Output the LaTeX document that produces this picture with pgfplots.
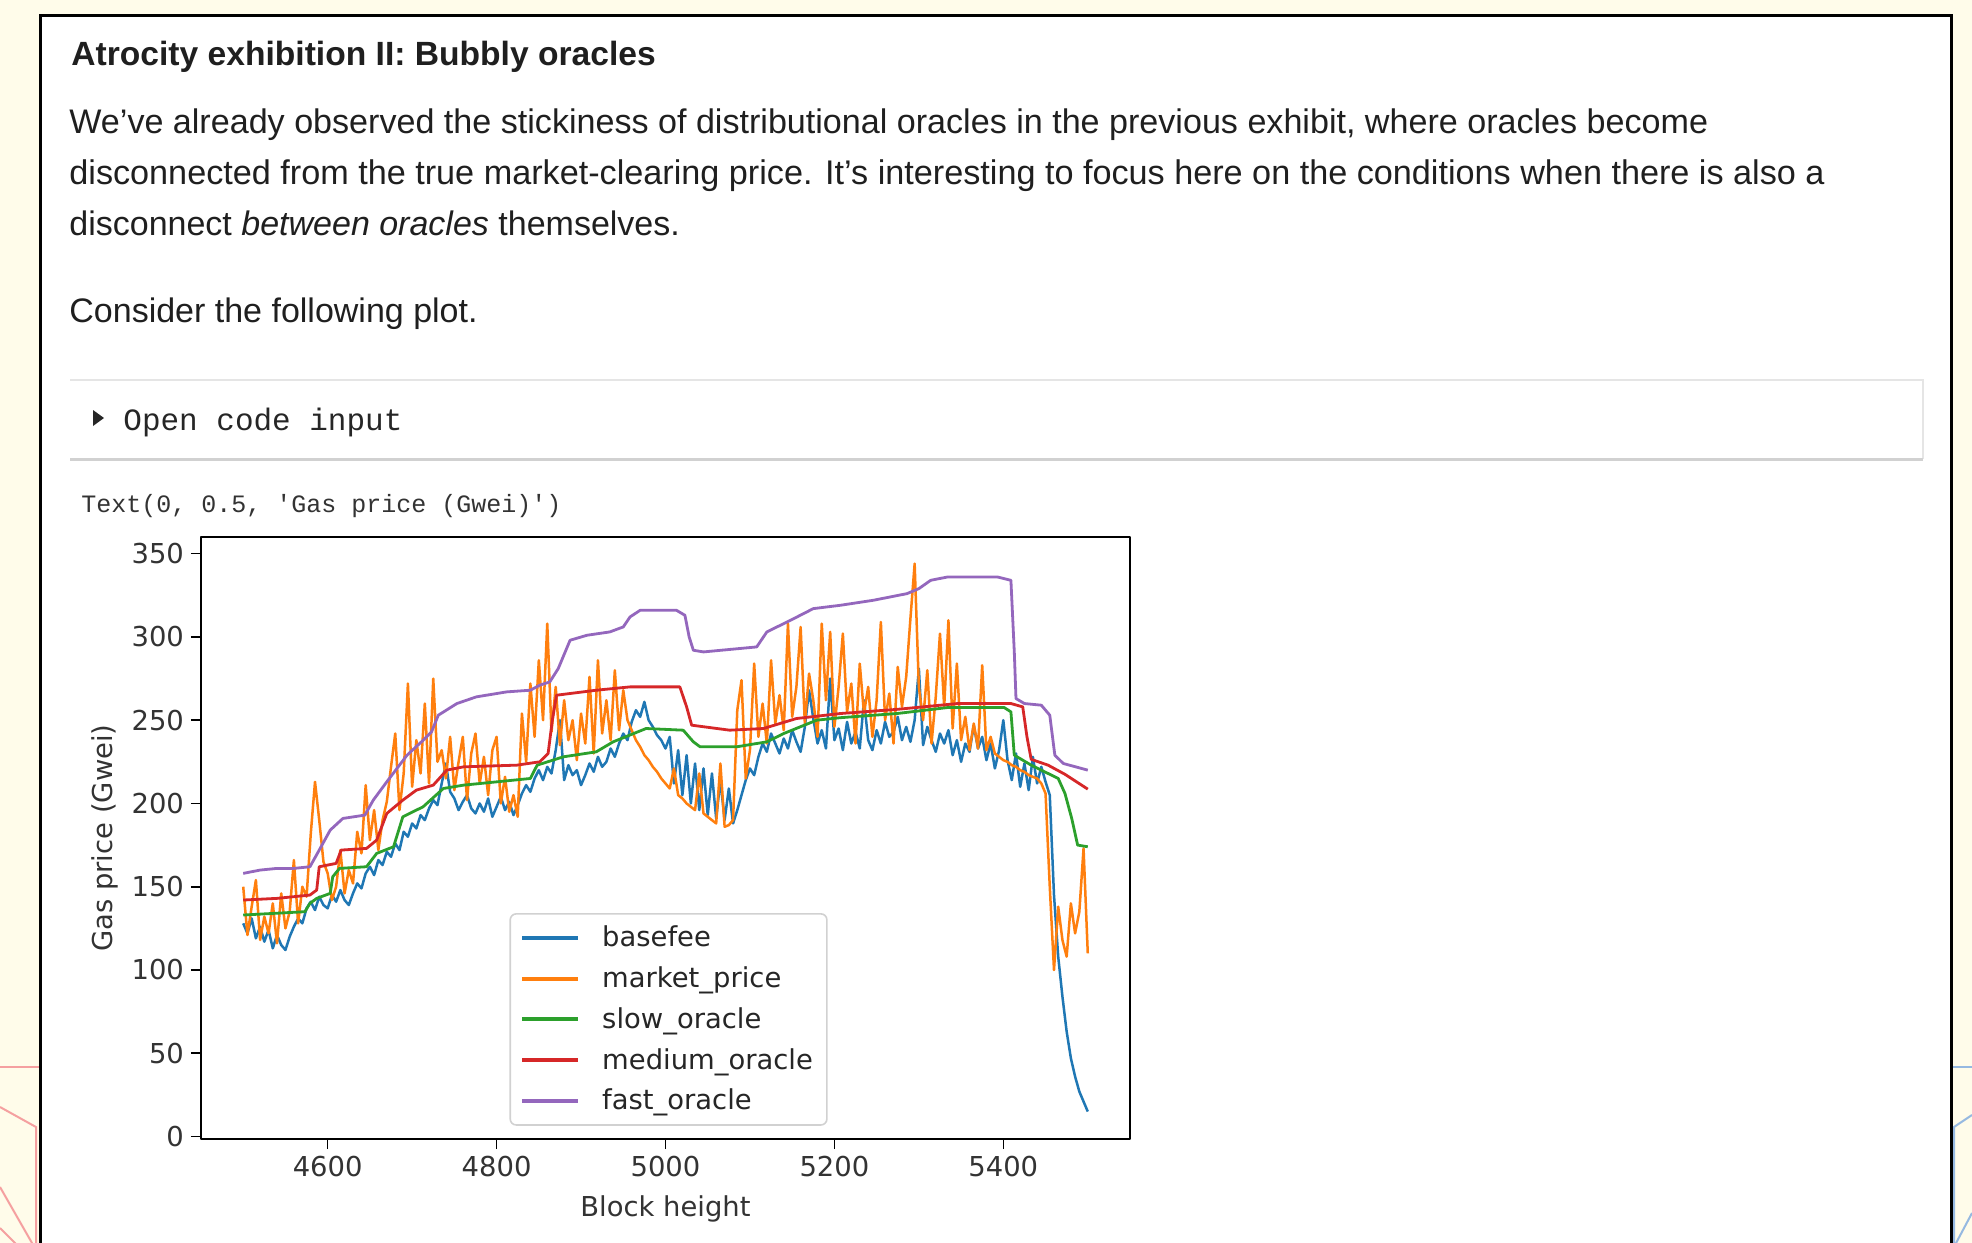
\documentclass[border=0pt]{standalone}
\usepackage{pgfplots}
\pgfplotsset{compat=1.18}
\usepackage{fontspec}
\setmainfont{Liberation Sans}
\newfontfamily\plotfont{DejaVu Sans}
\newfontfamily\codefont{Liberation Mono}
\definecolor{mplblue}{HTML}{1F77B4}
\definecolor{mplorange}{HTML}{FF7F0E}
\definecolor{mplgreen}{HTML}{2CA02C}
\definecolor{mplred}{HTML}{D62728}
\definecolor{mplpurple}{HTML}{9467BD}
\definecolor{bgcream}{RGB}{255,252,234}
\definecolor{pinkdeco}{RGB}{245,160,160}
\definecolor{bluedeco}{RGB}{150,185,225}
\begin{document}
\begin{tikzpicture}
\useasboundingbox (0pt,0pt) rectangle (986pt,-621.5pt);
\begin{scope}[x=0.5pt,y=-0.5pt]
  \fill[bgcream] (0,0) rectangle (1972,1243);
  % decorations
  \draw[pinkdeco, line width=1pt] (0,1067) -- (40,1067);
  \draw[pinkdeco, line width=1pt] (0,1107) -- (36,1127) -- (36,1260);
  \draw[pinkdeco, line width=1pt] (0,1187) -- (36,1250);
  \draw[pinkdeco, line width=1pt] (0,1228) -- (22,1250);
  \draw[bluedeco, line width=1pt] (1951,1067) -- (1972,1067);
  \draw[bluedeco, line width=1pt] (1972,1115) -- (1954,1127) -- (1954,1260);
  \draw[bluedeco, line width=1pt] (1955,1245) -- (1972,1213);
  % panel
  \fill[white] (40,15) rectangle (1951,1260);
  \draw[black, line width=1.5pt] (40,1260) -- (40,15) -- (1951,15) -- (1951,1260);
  % text
  \node[anchor=base west, inner sep=0pt, text=black!88] at (71,65)
    {\fontsize{16.8}{20}\selectfont\bfseries Atrocity exhibition II: Bubbly oracles};
  \node[anchor=base west, inner sep=0pt, text=black!88] at (69,133)
    {\fontsize{17.05}{20}\selectfont We've already observed the stickiness of distributional oracles in the previous exhibit, where oracles become};
  \node[anchor=base west, inner sep=0pt, text=black!88] at (69,184)
    {\fontsize{17.1}{20}\selectfont disconnected from the true market-clearing price. It's interesting to focus here on the conditions when there is also a};
  \node[anchor=base west, inner sep=0pt, text=black!88] at (69,235.5)
    {\fontsize{17}{20}\selectfont disconnect \textit{between oracles} themselves.};
  \node[anchor=base west, inner sep=0pt, text=black!88] at (69,322)
    {\fontsize{17}{20}\selectfont Consider the following plot.};
  % code box
  \fill[white] (70,380) rectangle (1923,459);
  \draw[black!10, line width=0.8pt] (70,380) -- (1923,380) -- (1923,459);
  \draw[black!18, line width=1.5pt] (70,459) -- (1923,459);
  \fill[black!85] (93,410) -- (93,426) -- (104,418) -- cycle;
  \node[anchor=base west, inner sep=0pt, text=black!85] at (123,430)
    {\fontsize{15.5}{18}\selectfont\codefont Open code input};
  \node[anchor=base west, inner sep=0pt, text=black!80] at (81,512)
    {\fontsize{12.5}{15}\selectfont\codefont Text(0, 0.5, 'Gas price (Gwei)')};
\end{scope}
\begin{axis}[
  at={(100.5pt,-569.5pt)}, anchor=south west,
  scale only axis, width=464.5pt, height=301pt,
  xmin=4450, xmax=5550, ymin=-1.5, ymax=360,
  xtick={4600,4800,5000,5200,5400}, ytick={0,50,100,150,200,250,300,350},
  tick align=outside, major tick length=5pt,
  xtick pos=left, ytick pos=left,
  tick style={black, line width=0.8pt},
  axis line style={black, line width=1pt},
  ticklabel style={font=\plotfont\fontsize{13.7}{16}\selectfont, text=black!80},
  /pgf/number format/assume math mode=true,
  /pgf/number format/1000 sep={},
  xlabel={Block height}, ylabel={Gas price (Gwei)},
  label style={font=\plotfont\fontsize{13.7}{16}\selectfont, text=black!80},
  xlabel style={yshift=-2.5pt},
  legend cell align=left,
  legend style={at={(0.332,0.022)}, anchor=south west, draw=black!18, line width=0.8pt,
    rounded corners=3pt, fill=white, font=\plotfont\fontsize{13.7}{16}\selectfont,
    text=black!85, inner xsep=5pt, inner ysep=4pt, row sep=4.5pt},
  legend image code/.code={\draw[#1, line width=2pt] (0pt,0pt) -- (28pt,0pt);
    \path[draw=none, fill=none] (0pt,0pt) -- (38pt,0pt);},
  line join=round,
]
% basefee
\addplot[mplblue, line width=1.25pt] coordinates {
(4500,128)(4505,122)(4510,131)(4515,119)(4520,126)(4525,117)(4530,124)(4535,113)(4540,121)(4545,115)
(4550,112)(4555,120)(4560,126)(4565,131)(4570,128)(4575,137)(4580,141)(4585,136)(4590,144)(4595,139)
(4600,137)(4605,145)(4610,141)(4615,148)(4620,142)(4625,139)(4630,146)(4635,152)(4640,149)(4645,158)
(4650,162)(4655,157)(4660,166)(4665,163)(4670,171)(4675,168)(4680,176)(4685,172)(4690,183)(4695,180)
(4700,188)(4705,185)(4710,193)(4715,190)(4720,197)(4725,202)(4730,199)(4735,212)(4740,224)(4745,207)
(4750,203)(4755,196)(4760,201)(4765,205)(4770,197)(4775,194)(4780,200)(4785,195)(4790,203)(4795,192)
(4800,198)(4805,204)(4810,196)(4815,201)(4820,193)(4825,199)(4830,206)(4835,211)(4840,207)(4845,215)
(4850,220)(4855,214)(4860,222)(4865,218)(4870,232)(4875,250)(4880,214)(4885,223)(4890,217)(4895,220)
(4900,211)(4905,217)(4910,224)(4915,219)(4920,228)(4925,222)(4930,225)(4935,233)(4940,228)(4945,236)
(4950,242)(4955,238)(4960,249)(4965,256)(4970,252)(4975,261)(4980,250)(4985,246)(4990,241)(4995,238)
(5000,233)(5005,240)(5010,212)(5015,232)(5020,205)(5025,229)(5030,200)(5035,224)(5040,196)(5045,221)
(5050,193)(5055,218)(5060,191)(5065,214)(5070,190)(5075,209)(5080,188)(5085,196)(5090,205)(5095,214)
(5100,221)(5105,217)(5110,228)(5115,236)(5120,231)(5125,242)(5130,236)(5135,230)(5140,239)(5145,233)
(5150,244)(5155,237)(5160,231)(5165,246)(5170,268)(5175,251)(5180,236)(5185,244)(5190,233)(5195,275)
(5200,238)(5205,245)(5210,232)(5215,249)(5220,236)(5225,243)(5230,233)(5235,262)(5240,238)(5245,232)
(5250,244)(5255,236)(5260,249)(5265,240)(5270,243)(5275,252)(5280,238)(5285,246)(5290,237)(5295,250)
(5300,281)(5305,235)(5310,246)(5315,238)(5320,231)(5325,242)(5330,236)(5335,244)(5340,229)(5345,238)
(5350,225)(5355,236)(5360,231)(5365,247)(5370,233)(5375,240)(5380,226)(5385,236)(5390,221)(5395,232)
(5400,250)(5405,226)(5410,214)(5415,230)(5420,210)(5425,224)(5430,208)(5435,228)(5440,212)(5445,222)
(5450,213)(5455,205)(5460,145)(5465,108)(5470,84)(5475,63)(5480,47)(5485,36)(5490,27)(5495,21)(5500,15)
};
\addlegendentry{basefee}
% market_price
\addplot[mplorange, line width=1.25pt] coordinates {
(4500,150)(4505,121)(4510,138)(4515,154)(4520,118)(4525,132)(4530,122)(4535,140)(4540,116)(4545,146)
(4550,125)(4555,135)(4560,166)(4565,128)(4570,150)(4575,144)(4580,182)(4585,213)(4590,190)(4595,165)
(4600,158)(4605,142)(4610,150)(4615,172)(4620,146)(4625,160)(4630,152)(4635,183)(4640,170)(4645,211)
(4650,178)(4655,196)(4660,172)(4665,190)(4670,201)(4675,222)(4680,242)(4685,196)(4690,218)(4695,272)
(4700,210)(4705,238)(4710,218)(4715,260)(4720,212)(4725,275)(4730,225)(4735,232)(4740,215)(4745,240)
(4750,208)(4755,225)(4760,240)(4765,202)(4770,230)(4775,242)(4780,212)(4785,228)(4790,205)(4795,232)
(4800,240)(4805,200)(4810,216)(4815,195)(4820,205)(4825,192)(4830,254)(4835,225)(4840,272)(4845,240)
(4850,286)(4855,250)(4860,308)(4865,243)(4870,270)(4875,235)(4880,262)(4885,238)(4890,250)(4895,226)
(4900,254)(4905,236)(4910,276)(4915,230)(4920,286)(4925,242)(4930,262)(4935,238)(4940,280)(4945,244)
(4950,268)(4955,250)(4960,244)(4965,238)(4970,234)(4975,229)(4980,226)(4985,222)(4990,219)(4995,215)
(5000,212)(5005,209)(5010,221)(5015,205)(5020,203)(5025,200)(5030,198)(5035,196)(5040,218)(5045,194)
(5050,192)(5055,190)(5060,188)(5065,224)(5070,186)(5075,187)(5080,190)(5085,256)(5090,274)(5095,215)
(5100,232)(5105,284)(5110,240)(5115,260)(5120,236)(5125,286)(5130,248)(5135,265)(5140,244)(5145,308)
(5150,252)(5155,270)(5160,306)(5165,248)(5170,278)(5175,262)(5180,240)(5185,308)(5190,262)(5195,303)
(5200,246)(5205,270)(5210,302)(5215,255)(5220,272)(5225,236)(5230,284)(5235,254)(5240,270)(5245,240)
(5250,262)(5255,309)(5260,250)(5265,266)(5270,236)(5275,282)(5280,258)(5285,276)(5290,311)(5295,344)
(5300,270)(5305,250)(5310,280)(5315,236)(5320,264)(5325,302)(5330,258)(5335,310)(5340,245)(5345,284)
(5350,238)(5355,252)(5360,232)(5365,248)(5370,233)(5375,283)(5380,232)(5385,240)(5390,230)(5395,228)
(5400,226)(5405,225)(5410,223)(5415,222)(5420,220)(5425,219)(5430,217)(5435,216)(5440,215)(5445,212)
(5450,206)(5455,150)(5460,100)(5465,138)(5470,118)(5475,108)(5480,140)(5485,122)(5490,135)(5495,173)(5500,110)
};
\addlegendentry{market\_price}
% slow_oracle
\addplot[mplgreen, line width=1.4pt] coordinates {
(4500,133)(4573,135)(4579,140)(4587,143)(4603,146)(4606,156)(4614,161)(4646,162)(4658,170)(4678,174)
(4689,192)(4713,198)(4737,209)(4761,211)(4840,215)(4848,223)(4879,228)(4918,231)(4938,237)(4977,245)
(5021,244)(5033,237)(5041,234)(5084,234)(5120,237)(5140,242)(5179,250)(5207,251.5)(5274,254)(5334,257.6)
(5401,257.6)(5409,255)(5413,229)(5433,223)(5465,215)(5473,206)(5481,191)(5488,175)(5500,174)
};
\addlegendentry{slow\_oracle}
% medium_oracle
\addplot[mplred, line width=1.4pt] coordinates {
(4500,142)(4540,143)(4579,145)(4587,148)(4590,162)(4610,164)(4616,172)(4646,173)(4658,178)(4670,194)
(4689,202)(4705,208)(4725,211)(4741,220)(4761,222)(4824,223)(4851,225)(4861,230)(4866,250)(4871,265)
(4918,268)(4958,270)(5017,270)(5025,258)(5031,247)(5076,244)(5116,245)(5155,251)(5207,254)(5274,256.5)
(5346,260)(5409,260)(5423,258)(5428,240)(5433,226.5)(5453,223)(5473,217.5)(5500,208.6)
};
\addlegendentry{medium\_oracle}
% fast_oracle
\addplot[mplpurple, line width=1.4pt] coordinates {
(4500,158)(4520,160)(4540,161)(4560,161)(4579,162)(4590,172)(4603,184)(4618,191)(4644,193)(4654,202)
(4670,213)(4694,229)(4711,237)(4723,243)(4731,253)(4753,260)(4776,264)(4812,267)(4840,268)(4851,271)
(4863,273)(4873,281)(4887,298)(4907,301)(4934,303)(4950,306)(4958,312)(4970,316)(5013,316)(5023,313)
(5028,300)(5033,292)(5045,291)(5108,294)(5120,303)(5148,310)(5175,317)(5207,319)(5246,322)(5286,326)
(5300,329)(5314,334)(5334,336)(5393,336)(5409,334)(5413,291)(5415,263)(5425,260)(5445,259)(5455,253)
(5461,229)(5471,224)(5500,220)
};
\addlegendentry{fast\_oracle}
\end{axis}
\end{tikzpicture}
\end{document}
